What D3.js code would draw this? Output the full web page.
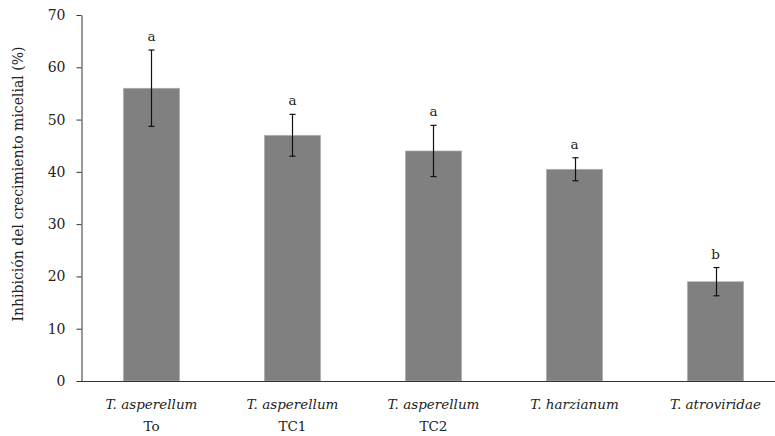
<!DOCTYPE html>
<html><head><meta charset="utf-8">
<script src="https://cdn.jsdelivr.net/npm/d3@7"></script>
<style>body{margin:0;background:#fff}svg{display:block}text{font-family:"DejaVu Serif",serif;fill:#222}</style>
</head><body><svg id="c" width="775" height="436"></svg>
<script>
const species = ["T. asperellum","T. asperellum","T. asperellum","T. harzianum","T. atroviridae"];
const strains = ["To","TC1","TC2","",""];
const values = [56, 47, 44, 40.5, 19];
const errors = [7.3, 4, 4.9, 2.2, 2.7];
const letters = ["a","a","a","a","b"];
const yTicks = [0,10,20,30,40,50,60,70];
const yTitle = "Inhibición del crecimiento micelial (%)";

(function(){
const svg = d3.select("#c");
const W = 775, mLeft = 81, mTop = 15, mBottom = 381;
const idx = d3.range(values.length);
const x = d3.scaleBand().domain(idx).range([mLeft, 786]).paddingInner(0.6).paddingOuter(0.3);
const y = d3.scaleLinear().domain([0,70]).range([mBottom, mTop]);

// bars
svg.append("g").selectAll("rect").data(idx).join("rect")
  .attr("x", i => x(i)).attr("width", x.bandwidth())
  .attr("y", i => y(values[i])).attr("height", i => y(0) - y(values[i]))
  .attr("fill", "#808080").attr("stroke","#b8b8b8").attr("stroke-width",0.6);

// error bars
const eb = svg.append("g").attr("stroke","#111").attr("stroke-width",1.2);
idx.forEach(i => {
  const cx = Math.round(x(i) + x.bandwidth()/2) + 0.5;
  const y1 = y(values[i] + errors[i]), y2 = y(values[i] - errors[i]);
  eb.append("line").attr("x1",cx).attr("x2",cx).attr("y1",y1).attr("y2",y2);
  eb.append("line").attr("x1",cx-3).attr("x2",cx+3).attr("y1",y1).attr("y2",y1);
  eb.append("line").attr("x1",cx-3).attr("x2",cx+3).attr("y1",y2).attr("y2",y2);
});
// letters
svg.append("g").selectAll("text").data(idx).join("text")
  .attr("x", i => x(i) + x.bandwidth()/2)
  .attr("y", i => y(values[i] + errors[i]) - 9)
  .attr("text-anchor","middle").attr("font-size",13.5)
  .text(i => letters[i]);

// y axis
const ya = svg.append("g").attr("transform",`translate(${mLeft+0.5},0)`)
  .call(d3.axisLeft(y).tickValues(yTicks).tickSize(5).tickPadding(11).tickSizeOuter(0));
ya.select(".domain").attr("stroke","#333");
ya.selectAll(".tick line").attr("stroke","#333");
ya.selectAll("text").attr("font-size",14).attr("fill","#222").attr("font-family","DejaVu Serif");

// x axis line
svg.append("line").attr("x1",mLeft).attr("x2",W).attr("y1",mBottom+0.5).attr("y2",mBottom+0.5)
  .attr("stroke","#333").attr("stroke-width",1.2);

// x labels
const xl = svg.append("g");
idx.forEach(i => {
  const cx = x(i) + x.bandwidth()/2;
  xl.append("text").attr("x",cx).attr("y",409).attr("text-anchor","middle")
    .attr("font-size",13.5).attr("font-style","italic").text(species[i]);
  if (strains[i]) xl.append("text").attr("x",cx).attr("y",431).attr("text-anchor","middle")
    .attr("font-size",13.5).text(strains[i]);
});

// y title
svg.append("text").attr("transform","translate(23,184) rotate(-90)")
  .attr("text-anchor","middle").attr("font-size",14).text(yTitle);
})();
</script></body></html>
